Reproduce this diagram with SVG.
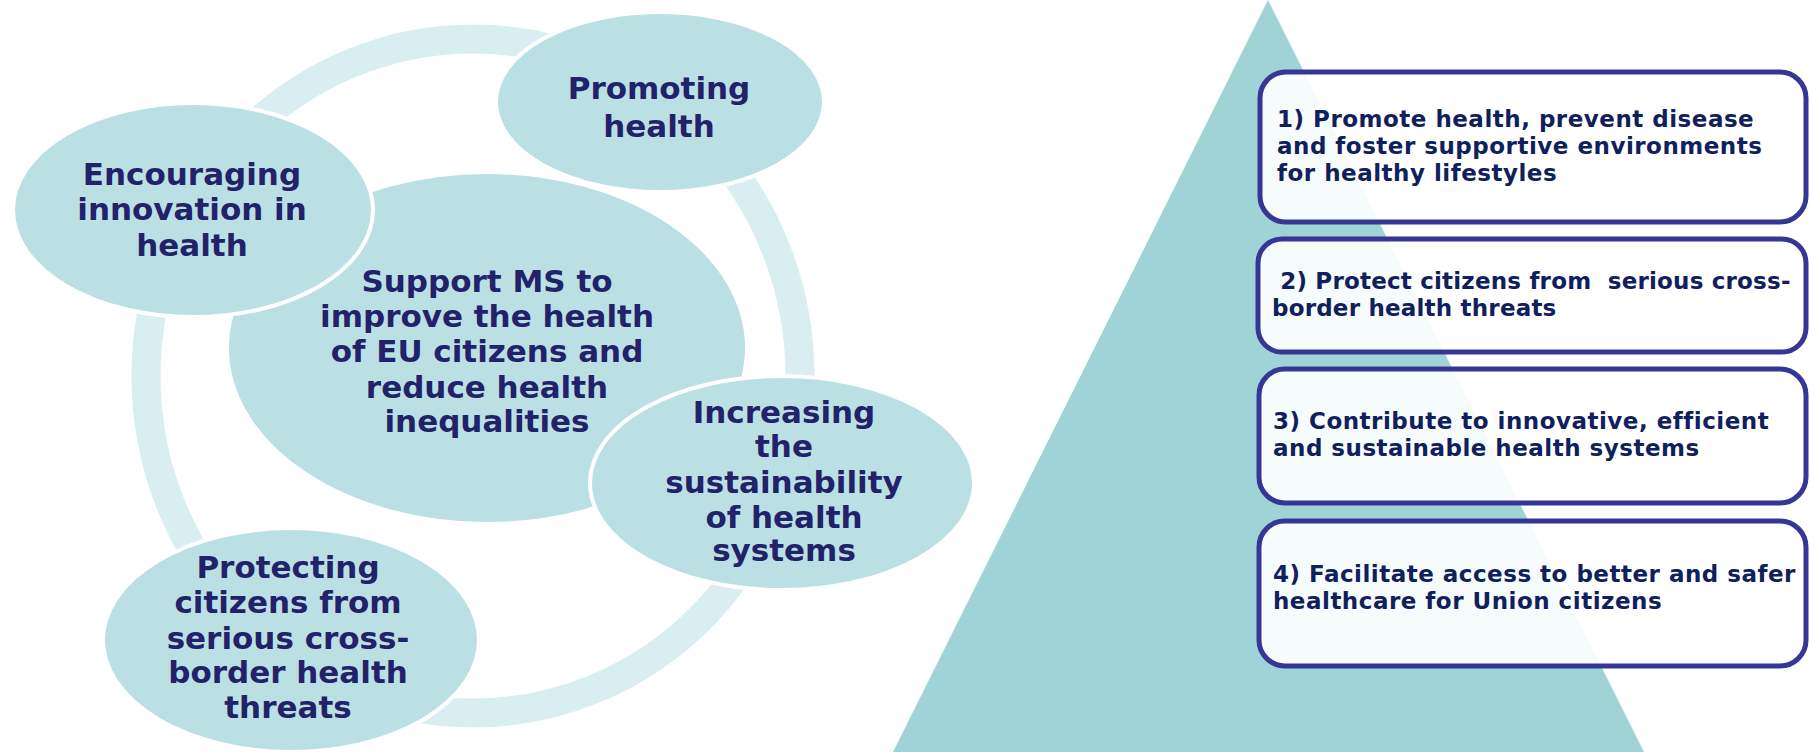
<svg xmlns="http://www.w3.org/2000/svg" width="1810" height="752" viewBox="0 0 1810 752">
<style>
.bg{fill:#ffffff}
.ring{fill:none;stroke:#d9eef0;stroke-width:29}
.ell{fill:#bae0e3;stroke:#ffffff;stroke-width:4}
.nt{font-family:"DejaVu Sans",Verdana,sans-serif;font-weight:bold;font-size:31px;fill:#22226a;text-anchor:middle}
.tri{fill:#a0d3d6}
.box{fill:#ffffff;fill-opacity:0.9;stroke:#363696;stroke-width:5}
.bt{font-family:"DejaVu Sans",Verdana,sans-serif;font-weight:bold;font-size:23px;fill:#10205c;letter-spacing:0.5px}
</style>
<rect class="bg" x="0" y="0" width="1810" height="752"/>
<g id="connectors">
<ellipse class="ring" cx="473" cy="376" rx="327" ry="337"/>
</g>
<g id="node-center">
<ellipse class="ell" cx="487" cy="348" rx="260" ry="176"/>
<text class="nt" x="487" y="292">Support MS to</text>
<text class="nt" x="487" y="327">improve the health</text>
<text class="nt" x="487" y="362">of EU citizens and</text>
<text class="nt" x="487" y="398">reduce health</text>
<text class="nt" x="487" y="432">inequalities</text>
</g>
<g id="node-encouraging">
<ellipse class="ell" cx="193" cy="210" rx="180" ry="107"/>
<text class="nt" x="192" y="185">Encouraging</text>
<text class="nt" x="192" y="220">innovation in</text>
<text class="nt" x="192" y="256">health</text>
</g>
<g id="node-promoting">
<ellipse class="ell" cx="660" cy="102" rx="164" ry="90"/>
<text class="nt" x="659" y="99">Promoting</text>
<text class="nt" x="659" y="137">health</text>
</g>
<g id="node-sustainability">
<ellipse class="ell" cx="782" cy="483" rx="192" ry="107"/>
<text class="nt" x="784" y="423">Increasing</text>
<text class="nt" x="784" y="457">the</text>
<text class="nt" x="784" y="493">sustainability</text>
<text class="nt" x="784" y="528">of health</text>
<text class="nt" x="784" y="561">systems</text>
</g>
<g id="node-protecting">
<ellipse class="ell" cx="291" cy="640" rx="188" ry="112"/>
<text class="nt" x="288" y="578">Protecting</text>
<text class="nt" x="288" y="613">citizens from</text>
<text class="nt" x="288" y="649">serious cross-</text>
<text class="nt" x="288" y="683">border health</text>
<text class="nt" x="288" y="718">threats</text>
</g>
<g id="pyramid">
<polygon class="tri" points="1268,0 1644,752 893,752"/>
</g>
<g id="box1">
<rect class="box" x="1260" y="72" width="546" height="150" rx="26"/>
<text class="bt" x="1277" y="127">1) Promote health, prevent disease</text>
<text class="bt" x="1277" y="154">and foster supportive environments</text>
<text class="bt" x="1277" y="181">for healthy lifestyles</text>
</g>
<g id="box2">
<rect class="box" x="1258" y="239" width="548" height="113" rx="24"/>
<text class="bt" x="1272" y="289" xml:space="preserve" style="letter-spacing:0.2px"> 2) Protect citizens from  serious cross-</text>
<text class="bt" x="1272" y="316" style="letter-spacing:0.2px">border health threats</text>
</g>
<g id="box3">
<rect class="box" x="1259" y="369" width="547" height="134" rx="26"/>
<text class="bt" x="1273" y="429">3) Contribute to innovative, efficient</text>
<text class="bt" x="1273" y="456">and sustainable health systems</text>
</g>
<g id="box4">
<rect class="box" x="1259" y="521" width="547" height="145" rx="26"/>
<text class="bt" x="1273" y="582">4) Facilitate access to better and safer</text>
<text class="bt" x="1273" y="609">healthcare for Union citizens</text>
</g>
</svg>
